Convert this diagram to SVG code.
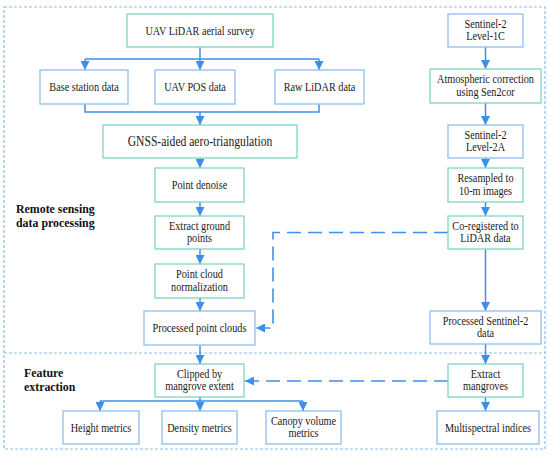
<svg xmlns="http://www.w3.org/2000/svg" width="550" height="457" viewBox="0 0 550 457">
<defs>
<style>
.frame{fill:none;stroke:#8dbbe9;stroke-width:1.2;stroke-dasharray:3,2}
.g{fill:#fff;stroke:#7fd6c2;stroke-width:1.3}
.b{fill:#fff;stroke:#8fbfec;stroke-width:1.3}
.t{font-family:'Liberation Serif','DejaVu Serif',serif;font-size:12.5px;fill:#1a1a1a;text-anchor:middle}
.tl{font-family:'Liberation Serif','DejaVu Serif',serif;font-size:14.5px;fill:#1a1a1a;text-anchor:middle}
.h{font-family:'Liberation Serif','DejaVu Serif',serif;font-size:13.5px;font-weight:bold;fill:#111}
.c{fill:none;stroke:#3d8fee;stroke-width:1.5}
.d{fill:none;stroke:#3d8fee;stroke-width:1.6;stroke-dasharray:14,7}
</style>
<marker id="ah" markerUnits="userSpaceOnUse" markerWidth="9" markerHeight="9" viewBox="0 0 10 10" refX="10" refY="5" orient="auto">
<path d="M0,0 L10,5 L0,10 z" fill="#3d8fee"/>
</marker>
</defs>
<rect width="550" height="457" fill="#fff"/>
<g id="frame">
<rect class="frame" x="4" y="7" width="541" height="442"/>
<line class="frame" x1="4" y1="353" x2="545" y2="353"/>
</g>
<g id="labels">
<text class="h" transform="translate(16,212.5) scale(0.88,1)">Remote sensing</text>
<text class="h" transform="translate(16,227) scale(0.88,1)">data processing</text>
<text class="h" transform="translate(24,376.5) scale(0.88,1)">Feature</text>
<text class="h" transform="translate(24,391) scale(0.88,1)">extraction</text>
</g>
<g id="connectors">
<path class="c" d="M200,47 V59 M85,59 H319"/>
<path class="c" d="M85,59 V70" marker-end="url(#ah)"/>
<path class="c" d="M200,59 V70" marker-end="url(#ah)"/>
<path class="c" d="M319,59 V70" marker-end="url(#ah)"/>
<path class="c" d="M85,104 V112 H319 V104"/>
<path class="c" d="M200,112 V125" marker-end="url(#ah)"/>
<path class="c" d="M200,158 V168" marker-end="url(#ah)"/>
<path class="c" d="M200,202 V216" marker-end="url(#ah)"/>
<path class="c" d="M200,249 V264" marker-end="url(#ah)"/>
<path class="c" d="M200,298 V311" marker-end="url(#ah)"/>
<path class="c" d="M200,345 V364" marker-end="url(#ah)"/>
<path class="c" d="M200,397 V401 M100,401 H303"/>
<path class="c" d="M100,401 V411" marker-end="url(#ah)"/>
<path class="c" d="M200,401 V411" marker-end="url(#ah)"/>
<path class="c" d="M303,401 V411" marker-end="url(#ah)"/>
<path class="c" d="M485.5,47 V69" marker-end="url(#ah)"/>
<path class="c" d="M485.5,103 V125" marker-end="url(#ah)"/>
<path class="c" d="M485.5,158 V168" marker-end="url(#ah)"/>
<path class="c" d="M485.5,202 V216" marker-end="url(#ah)"/>
<path class="c" d="M485.5,249 V311" marker-end="url(#ah)"/>
<path class="c" d="M485.5,344 V364" marker-end="url(#ah)"/>
<path class="c" d="M485.5,397 V411" marker-end="url(#ah)"/>
<path class="d" d="M448,232.5 H273 V328 H256" marker-end="url(#ah)"/>
<path class="d" d="M448,381 H245" marker-end="url(#ah)"/>
</g>
<g id="uav-survey"><rect class="g" x="127" y="14" width="146" height="33"/><text class="t" transform="translate(200,35) scale(0.82,1)">UAV LiDAR aerial survey</text></g>
<g id="base-station"><rect class="b" x="40" y="70" width="88" height="34"/><text class="t" transform="translate(84,91) scale(0.82,1)">Base station data</text></g>
<g id="uav-pos"><rect class="b" x="155" y="70" width="80" height="34"/><text class="t" transform="translate(195,91) scale(0.82,1)">UAV POS data</text></g>
<g id="raw-lidar"><rect class="b" x="275" y="70" width="89" height="34"/><text class="t" transform="translate(319.5,91) scale(0.82,1)">Raw LiDAR data</text></g>
<g id="gnss"><rect class="g" x="103" y="125" width="194" height="33"/><text class="tl" transform="translate(200,146) scale(0.8,1)">GNSS-aided aero-triangulation</text></g>
<g id="denoise"><rect class="g" x="155" y="168" width="89" height="34"/><text class="t" transform="translate(199.5,189) scale(0.82,1)">Point denoise</text></g>
<g id="ground"><rect class="g" x="155" y="216" width="89" height="33"/><text class="t" transform="translate(199.5,229.5) scale(0.82,1)">Extract ground</text><text class="t" transform="translate(199.5,242) scale(0.82,1)">points</text></g>
<g id="normalization"><rect class="g" x="155" y="264" width="89" height="34"/><text class="t" transform="translate(199.5,278) scale(0.82,1)">Point cloud</text><text class="t" transform="translate(199.5,290.5) scale(0.82,1)">normalization</text></g>
<g id="processed-pc"><rect class="b" x="144" y="311" width="111" height="34"/><text class="t" transform="translate(199.5,332) scale(0.82,1)">Processed point clouds</text></g>
<g id="clipped"><rect class="g" x="155" y="364" width="89" height="33"/><text class="t" transform="translate(199.5,377.5) scale(0.82,1)">Clipped by</text><text class="t" transform="translate(199.5,390) scale(0.82,1)">mangrove extent</text></g>
<g id="height"><rect class="b" x="63" y="411" width="76" height="33"/><text class="t" transform="translate(101,432) scale(0.82,1)">Height metrics</text></g>
<g id="density"><rect class="b" x="162" y="411" width="75" height="33"/><text class="t" transform="translate(199.5,432) scale(0.82,1)">Density metrics</text></g>
<g id="canopy"><rect class="b" x="266" y="411" width="75" height="33"/><text class="t" transform="translate(303.5,424.5) scale(0.82,1)">Canopy volume</text><text class="t" transform="translate(303.5,437) scale(0.82,1)">metrics</text></g>
<g id="s2-l1c"><rect class="b" x="448" y="14" width="75" height="33"/><text class="t" transform="translate(485.5,27.5) scale(0.82,1)">Sentinel-2</text><text class="t" transform="translate(485.5,40) scale(0.82,1)">Level-1C</text></g>
<g id="atmos"><rect class="g" x="430" y="69" width="111" height="34"/><text class="t" transform="translate(485.5,83) scale(0.82,1)">Atmospheric correction</text><text class="t" transform="translate(485.5,95.5) scale(0.82,1)">using Sen2cor</text></g>
<g id="s2-l2a"><rect class="b" x="448" y="125" width="75" height="33"/><text class="t" transform="translate(485.5,138.5) scale(0.82,1)">Sentinel-2</text><text class="t" transform="translate(485.5,151) scale(0.82,1)">Level-2A</text></g>
<g id="resampled"><rect class="g" x="448" y="168" width="75" height="34"/><text class="t" transform="translate(485.5,182) scale(0.82,1)">Resampled to</text><text class="t" transform="translate(485.5,194.5) scale(0.82,1)">10-m images</text></g>
<g id="coreg"><rect class="g" x="448" y="216" width="75" height="33"/><text class="t" transform="translate(485.5,229.5) scale(0.82,1)">Co-registered to</text><text class="t" transform="translate(485.5,242) scale(0.82,1)">LiDAR data</text></g>
<g id="processed-s2"><rect class="b" x="430" y="311" width="111" height="33"/><text class="t" transform="translate(485.5,324.5) scale(0.82,1)">Processed Sentinel-2</text><text class="t" transform="translate(485.5,337) scale(0.82,1)">data</text></g>
<g id="extract-mangroves"><rect class="g" x="448" y="364" width="75" height="33"/><text class="t" transform="translate(485.5,377.5) scale(0.82,1)">Extract</text><text class="t" transform="translate(485.5,390) scale(0.82,1)">mangroves</text></g>
<g id="multispectral"><rect class="b" x="437" y="411" width="102" height="33"/><text class="t" transform="translate(488,432) scale(0.82,1)">Multispectral indices</text></g>
</svg>
